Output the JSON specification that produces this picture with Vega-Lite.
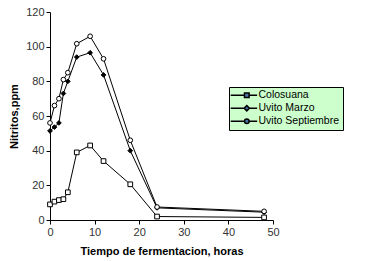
{
  "$schema": "https://vega.github.io/schema/vega-lite/v6.json",
  "width": 223,
  "height": 208,
  "autosize": "none",
  "padding": {"left": 50, "top": 12, "right": 93, "bottom": 41},
  "background": "white",
  "config": {
    "view": {"stroke": null},
    "font": "Liberation Sans",
    "axis": {"grid": false, "domainColor": "#000", "tickColor": "#000", "labelColor": "#333", "labelFontSize": 11, "labelFont": "Liberation Sans", "titleFont": "Liberation Sans", "titleFontWeight": "bold", "titleFontSize": 11, "titleColor": "#000", "tickSize": 4, "labelFlush": false, "labelOverlap": false}
  },
  "data": {"values": [
    {"t": 0, "v": 9, "s": "Colosuana"},
    {"t": 1, "v": 10.6, "s": "Colosuana"},
    {"t": 2, "v": 11.5, "s": "Colosuana"},
    {"t": 3, "v": 12, "s": "Colosuana"},
    {"t": 4, "v": 16, "s": "Colosuana"},
    {"t": 6, "v": 39, "s": "Colosuana"},
    {"t": 9, "v": 43, "s": "Colosuana"},
    {"t": 12, "v": 34, "s": "Colosuana"},
    {"t": 18, "v": 20.6, "s": "Colosuana"},
    {"t": 24, "v": 2, "s": "Colosuana"},
    {"t": 48, "v": 1.5, "s": "Colosuana"},
    {"t": 0, "v": 51.4, "s": "Uvito Marzo"},
    {"t": 1, "v": 53.6, "s": "Uvito Marzo"},
    {"t": 2, "v": 56, "s": "Uvito Marzo"},
    {"t": 3, "v": 73, "s": "Uvito Marzo"},
    {"t": 4, "v": 80, "s": "Uvito Marzo"},
    {"t": 6, "v": 94, "s": "Uvito Marzo"},
    {"t": 9, "v": 96.5, "s": "Uvito Marzo"},
    {"t": 12, "v": 83.7, "s": "Uvito Marzo"},
    {"t": 18, "v": 40, "s": "Uvito Marzo"},
    {"t": 24, "v": 7, "s": "Uvito Marzo"},
    {"t": 48, "v": 4.5, "s": "Uvito Marzo"},
    {"t": 0, "v": 56, "s": "Uvito Septiembre"},
    {"t": 1, "v": 66, "s": "Uvito Septiembre"},
    {"t": 2, "v": 70, "s": "Uvito Septiembre"},
    {"t": 3, "v": 81, "s": "Uvito Septiembre"},
    {"t": 4, "v": 85, "s": "Uvito Septiembre"},
    {"t": 6, "v": 101.7, "s": "Uvito Septiembre"},
    {"t": 9, "v": 106, "s": "Uvito Septiembre"},
    {"t": 12, "v": 93, "s": "Uvito Septiembre"},
    {"t": 18, "v": 46, "s": "Uvito Septiembre"},
    {"t": 24, "v": 7.5, "s": "Uvito Septiembre"},
    {"t": 48, "v": 5, "s": "Uvito Septiembre"}
  ]},
  "encoding": {
    "x": {"field": "t", "type": "quantitative", "scale": {"domain": [0, 50], "nice": false}, "axis": {"values": [0, 10, 20, 30, 40, 50], "title": "Tiempo de fermentacion, horas", "titlePadding": 8, "labelOverlap": false}},
    "y": {"field": "v", "type": "quantitative", "scale": {"domain": [0, 120], "nice": false}, "axis": {"values": [0, 20, 40, 60, 80, 100, 120], "tickCount": 7, "title": "Nitritos,ppm", "titlePadding": 6, "labelOverlap": false}}
  },
  "resolve": {"scale": {"shape": "independent"}, "legend": {"shape": "independent"}},
  "layer": [
    {
      "mark": {"type": "line", "color": "#000", "strokeWidth": 1},
      "encoding": {
        "detail": {"field": "s"}
      }
    },
    {
      "mark": {"type": "point", "filled": true, "stroke": "#000", "strokeWidth": 1, "size": 22},
      "encoding": {
        "shape": {"field": "s", "type": "nominal", "scale": {"domain": ["Colosuana", "Uvito Marzo", "Uvito Septiembre"], "range": ["square", "diamond", "circle"]}, "legend": null},
        "fill": {"field": "s", "type": "nominal", "scale": {"domain": ["Colosuana", "Uvito Marzo", "Uvito Septiembre"], "range": ["#fff", "#000", "#fff"]}, "legend": null},
        "opacity": {"field": "s", "type": "nominal", "scale": {"domain": ["Colosuana", "Uvito Marzo", "Uvito Septiembre"], "range": [1, 1, 1]},
          "legend": {"title": null, "orient": "none", "legendX": 182, "legendY": 78, "zindex": 0, "fillColor": "#000", "strokeColor": "#000", "padding": 3, "labelFontSize": 10.5, "labelFont": "Liberation Sans", "labelColor": "transparent", "symbolSize": 36, "rowPadding": 1, "symbolOffset": 13, "labelOffset": 3,
            "encode": {"symbols": {"opacity": {"value": 0}}}}}
      }
    },
    {
      "mark": {"type": "point", "filled": true, "stroke": "#000", "strokeWidth": 1, "size": 0, "opacity": 1},
      "encoding": {
        "shape": {"field": "s", "type": "nominal", "scale": {"domain": ["Colosuana", "Uvito Marzo", "Uvito Septiembre"], "range": ["M-6.51,0H-1.92M-0.38,0H2.3M-1.92,-0.77H-0.38V0.77H-1.92Z", "M-6.51,0H-2.03M-0.27,0H2.3M-1.15,-0.88L-0.27,0L-1.15,0.88L-2.03,0Z", "M-6.51,0H-1.92M-0.38,0H2.3M-0.38,0A0.77,0.77,0,1,1,-1.92,0A0.77,0.77,0,1,1,-0.38,0Z"]},
          "legend": {"title": null, "orient": "none", "legendX": 179, "legendY": 75, "zindex": 1, "fillColor": "#ccffcc", "strokeColor": "#000", "padding": 3, "labelFontSize": 10.5, "labelFont": "Liberation Sans", "labelColor": "#000", "symbolSize": 36, "rowPadding": 1, "symbolOffset": 13, "labelOffset": 3,
            "encode": {"symbols": {
              "fill": {"signal": "datum.value == 'Uvito Marzo' ? '#000' : '#fff'"},
              "stroke": {"value": "#000"},
              "strokeWidth": {"value": 1},
              "opacity": {"value": 1}
            }}}}
      }
    }
  ]
}
